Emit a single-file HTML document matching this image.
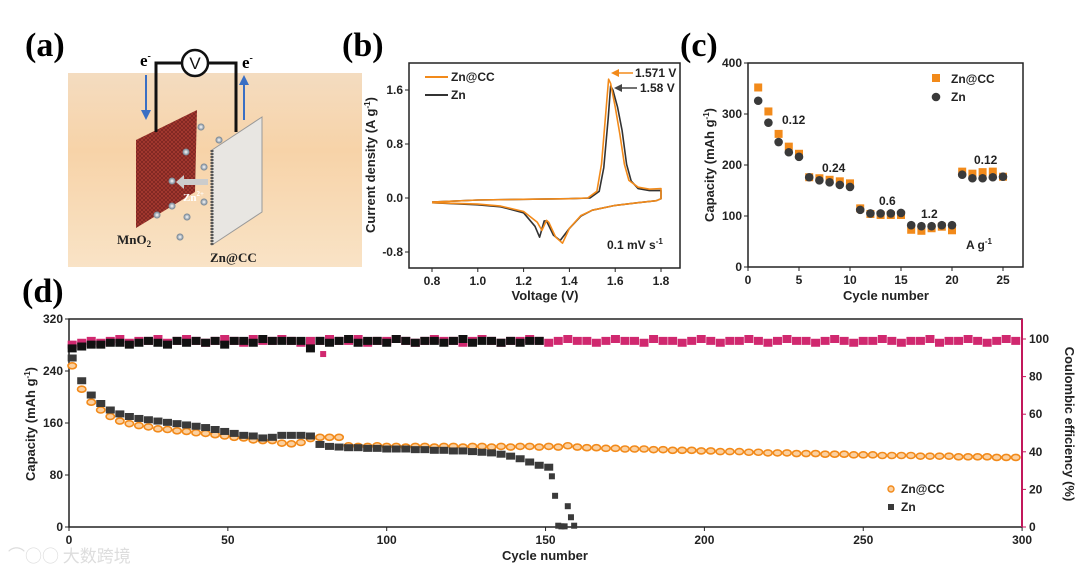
<!DOCTYPE html>
<html><head><meta charset="utf-8"><style>
html,body{margin:0;padding:0;background:#fff;}
svg{display:block;font-family:"Liberation Sans",Arial,sans-serif;}
.lbl{font-family:"Liberation Serif",serif;font-weight:bold;font-size:34px;}
.tk{font-size:12px;font-weight:bold;fill:#222;}
.at{font-size:13px;font-weight:bold;fill:#222;}
</style></head><body>
<svg id="fig" width="1080" height="575" viewBox="0 0 1080 575" xmlns="http://www.w3.org/2000/svg">
<defs>
<linearGradient id="bg" x1="0" y1="0" x2="0" y2="1"><stop offset="0" stop-color="#f4dcc0"/><stop offset="0.4" stop-color="#f7d3a8"/><stop offset="1" stop-color="#f9e3c6"/></linearGradient>
<pattern id="mesh" width="4" height="4" patternUnits="userSpaceOnUse"><rect width="4" height="4" fill="#a83a30"/><path d="M0 0L4 4M4 0L0 4" stroke="#7a2520" stroke-width="0.8"/></pattern>
<radialGradient id="ball"><stop offset="0" stop-color="#fff"/><stop offset="1" stop-color="#6a7a8a"/></radialGradient>
</defs>
<text class="lbl" x="25" y="56">(a)</text>
<text class="lbl" x="342" y="56">(b)</text>
<text class="lbl" x="680" y="56">(c)</text>
<text class="lbl" x="22" y="302">(d)</text>

<g>
<rect x="68" y="73" width="294" height="194" fill="url(#bg)"/>
<polygon points="136,140 197,110 195,192 136,228" fill="url(#mesh)"/>
<polygon points="212,150 262,117 262,212 212,245" fill="#e8e6e2" stroke="#999" stroke-width="1"/>
<line x1="212" y1="150" x2="212" y2="245" stroke="#555" stroke-width="3" stroke-dasharray="2,1"/>
<polyline points="156,132 156,63 182,63" fill="none" stroke="#111" stroke-width="3"/>
<polyline points="208,63 236,63 236,132" fill="none" stroke="#111" stroke-width="3"/>
<circle cx="195" cy="63" r="13" fill="#fff" stroke="#111" stroke-width="2.5"/>
<text x="195" y="69" text-anchor="middle" font-size="17" fill="#111">V</text>
<line x1="146" y1="75" x2="146" y2="112" stroke="#3a6fc4" stroke-width="2"/><polygon points="141,110 151,110 146,120" fill="#3a6fc4"/>
<line x1="244" y1="120" x2="244" y2="83" stroke="#3a6fc4" stroke-width="2"/><polygon points="239,85 249,85 244,75" fill="#3a6fc4"/>
<text x="140" y="66" font-family="Liberation Serif" font-weight="bold" font-size="17">e<tspan font-size="10" dy="-7">-</tspan></text>
<text x="242" y="68" font-family="Liberation Serif" font-weight="bold" font-size="17">e<tspan font-size="10" dy="-7">-</tspan></text>
<g fill="url(#ball)"><circle cx="201" cy="127" r="3.5"/><circle cx="219" cy="140" r="3.5"/><circle cx="186" cy="152" r="3.5"/><circle cx="204" cy="167" r="3.5"/><circle cx="172" cy="181" r="3.5"/><circle cx="204" cy="202" r="3.5"/><circle cx="172" cy="206" r="3.5"/><circle cx="157" cy="215" r="3.5"/><circle cx="187" cy="217" r="3.5"/><circle cx="180" cy="237" r="3.5"/></g>
<polygon points="208,179 184,179 184,175 176,182 184,189 184,185 208,185" fill="#ccc"/>
<text x="183" y="201" font-family="Liberation Serif" font-weight="bold" font-size="11" fill="#fff">Zn<tspan font-size="7" dy="-5">2+</tspan></text>
<text x="117" y="244" font-family="Liberation Serif" font-weight="bold" font-size="13" fill="#222">MnO<tspan font-size="9" dy="3">2</tspan></text>
<text x="210" y="262" font-family="Liberation Serif" font-weight="bold" font-size="13" fill="#222">Zn@CC</text>
</g>
<g id="pb"></g>
<g id="pc"></g>
<g id="pd"></g>
<text x="8" y="562" font-size="17" fill="#ddd" font-family="Noto Sans CJK SC, sans-serif">⌒○○ 大数跨境</text>
</svg>
<script>
// ---- Panel b data ----
const cvCC_V=[0.8,1.0,1.2,1.4,1.48,1.52,1.54,1.56,1.571,1.58,1.6,1.62,1.64,1.66,1.7,1.75,1.8,1.8,1.78,1.7,1.6,1.5,1.45,1.4,1.37,1.34,1.31,1.30,1.28,1.26,1.2,1.1,1.0,0.8];
const cvCC_I=[-0.06,-0.03,-0.02,-0.01,0.0,0.1,0.5,1.3,1.76,1.7,1.35,0.95,0.5,0.26,0.16,0.13,0.14,-0.01,-0.04,-0.07,-0.11,-0.18,-0.26,-0.45,-0.67,-0.58,-0.36,-0.33,-0.48,-0.36,-0.2,-0.12,-0.09,-0.07];
const cvZn_V=[0.8,1.0,1.2,1.4,1.49,1.53,1.55,1.57,1.58,1.59,1.61,1.63,1.65,1.67,1.7,1.75,1.8,1.8,1.78,1.7,1.6,1.5,1.45,1.4,1.36,1.33,1.30,1.29,1.27,1.25,1.2,1.1,1.0,0.8];
const cvZn_I=[-0.06,-0.03,-0.02,-0.01,0.0,0.1,0.45,1.2,1.66,1.6,1.35,1.0,0.5,0.25,0.14,0.11,0.11,-0.01,-0.04,-0.07,-0.11,-0.18,-0.27,-0.45,-0.63,-0.55,-0.34,-0.34,-0.58,-0.42,-0.22,-0.13,-0.1,-0.07];
const bXTicks=[0.8,1.0,1.2,1.4,1.6,1.8];
const bYTicks=[-0.8,0.0,0.8,1.6];
// ---- Panel c data ----
const rateCycles=[1,2,3,4,5,6,7,8,9,10,11,12,13,14,15,16,17,18,19,20,21,22,23,24,25];
const rateCC=[352,305,261,236,222,176,174,171,168,164,115,104,102,102,102,73,71,76,79,72,187,183,186,187,177];
const rateZn=[326,283,245,225,216,176,170,166,161,157,112,105,105,105,106,82,80,80,82,82,181,174,174,176,177];
const cXTicks=[0,5,10,15,20,25];
const cYTicks=[0,100,200,300,400];
// ---- Panel d data (every 3rd cycle: 1,4,7,...) ----
const capCC=[248,212,192,180,170,163,159,156,154,151,150,148,147,145,144,142,140,138,137,134,133,133,129,128,130,136,138,138,138,125,124,124,125,124,124,123,124,124,123,124,124,123,124,124,123,124,123,124,124,123,124,123,125,123,122,122,121,121,120,120,120,119,119,118,118,118,117,117,116,116,116,115,115,114,114,114,113,113,113,112,112,112,111,111,111,110,110,110,110,109,109,109,109,108,108,108,108,107,107,107];
const capZn=[260,225,203,190,180,174,170,167,165,163,161,159,157,155,153,150,147,144,141,140,137,138,141,141,141,140,127,124,123,122,122,121,121,120,120,120,119,119,118,118,117,117,116,115,114,112,109,105,100,95,92];
const znTailCycles=[152,153,154,155,156,157,158,159];
const znTailCap=[78,48,2,1,1,32,15,2];
const ceCC=[97,98,99,98,99,100,98,99,99,100,98,99,100,99,98,99,100,99,98,100,99,99,100,99,98,99,99,100,99,99,100,98,99,99,100,99,98,99,100,99,99,98,99,100,99,98,99,99,100,99,98,99,100,99,99,98,99,100,99,99,98,100,99,99,98,99,100,99,98,99,99,100,99,98,99,100,99,99,98,99,100,99,98,99,99,100,99,98,99,99,100,98,99,99,100,99,98,99,100,99];
const ceZn=[95,96,97,97,98,98,97,98,99,98,97,99,98,99,98,99,97,99,99,98,100,99,99,99,99,95,99,98,99,100,98,99,99,98,100,99,98,99,99,98,99,100,98,99,99,98,99,98,99,99];
const ceOutCycle=[80];const ceOutVal=[92];
const dXTicks=[0,50,100,150,200,250,300];
const dYTicks=[0,80,160,240,320];
const dRTicks=[0,20,40,60,80,100];

const NS='http://www.w3.org/2000/svg';
function mk(p,t,a){const e=document.createElementNS(NS,t);for(const k in a)e.setAttribute(k,a[k]);p.appendChild(e);return e;}
function axisBox(g,x0,y0,x1,y1){const r=mk(g,'rect',{x:x0,y:y0,width:x1-x0,height:y1-y0,fill:'none',stroke:'#222','stroke-width':1.5});}

// Panel b
(function(){
const g=document.getElementById('pb');
const X0=409,X1=680,Y0=63,Y1=268;
const sx=v=>432+(v-0.8)*229;
const sy=v=>198-v*67.5;
axisBox(g,X0,Y0,X1,Y1);
bXTicks.forEach(t=>{mk(g,'line',{x1:sx(t),x2:sx(t),y1:Y1,y2:Y1+4,stroke:'#222'});const tx=mk(g,'text',{x:sx(t),y:Y1+17,'text-anchor':'middle',class:'tk'});tx.textContent=t.toFixed(1);});
bYTicks.forEach(t=>{mk(g,'line',{x1:X0,x2:X0-4,y1:sy(t),y2:sy(t),stroke:'#222'});const tx=mk(g,'text',{x:X0-6,y:sy(t)+4,'text-anchor':'end',class:'tk'});tx.textContent=t.toFixed(1);});
function curve(V,I,c,n){let d='';V.forEach((v,i)=>{d+=(i?'L':'M')+sx(v).toFixed(1)+' '+sy(I[i]).toFixed(1);});const p=mk(g,'path',{d:d,fill:'none',stroke:c,'stroke-width':1.6,'stroke-linejoin':'round'});}
curve(cvZn_V,cvZn_I,'#333','cv-zn-line');
curve(cvCC_V,cvCC_I,'#f28a1a','cv-zncc-line');
const xt=mk(g,'text',{x:545,y:300,'text-anchor':'middle',class:'at'});xt.textContent='Voltage (V)';
const yt=mk(g,'text',{x:0,y:0,'text-anchor':'middle',class:'at',transform:'translate(375,165) rotate(-90)'});yt.innerHTML='Current density (A g<tspan font-size="8" dy="-5">-1</tspan><tspan dy="5">)</tspan>';
mk(g,'line',{x1:425,x2:448,y1:77,y2:77,stroke:'#f28a1a','stroke-width':2});
const l1=mk(g,'text',{x:451,y:81,class:'tk',fill:'#f28a1a'});l1.textContent='Zn@CC';l1.setAttribute('fill','#f28a1a');
mk(g,'line',{x1:425,x2:448,y1:95,y2:95,stroke:'#333','stroke-width':2});
const l2=mk(g,'text',{x:451,y:99,class:'tk'});l2.textContent='Zn';
mk(g,'line',{x1:633,x2:617,y1:73,y2:73,stroke:'#f28a1a','stroke-width':1.5});mk(g,'polygon',{points:'611,73 619,69 619,77',fill:'#f28a1a'});
const a1=mk(g,'text',{x:635,y:77,class:'tk'});a1.textContent='1.571 V';a1.setAttribute('fill','#f28a1a');
mk(g,'line',{x1:637,x2:620,y1:88,y2:88,stroke:'#444','stroke-width':1.5});mk(g,'polygon',{points:'614,88 622,84 622,92',fill:'#444'});
const a2=mk(g,'text',{x:640,y:92,class:'tk',fill:'#444'});a2.textContent='1.58 V';
const sr=mk(g,'text',{x:607,y:249,class:'tk'});sr.innerHTML='0.1 mV s<tspan font-size="8" dy="-5">-1</tspan>';
})();

// Panel c
(function(){
const g=document.getElementById('pc');
const X0=748,X1=1023,Y0=63,Y1=267;
const sx=v=>748+v*10.2;
const sy=v=>267-v*0.51;
axisBox(g,X0,Y0,X1,Y1);
cXTicks.forEach(t=>{mk(g,'line',{x1:sx(t),x2:sx(t),y1:Y1,y2:Y1+4,stroke:'#222'});const tx=mk(g,'text',{x:sx(t),y:Y1+17,'text-anchor':'middle',class:'tk'});tx.textContent=t;});
cYTicks.forEach(t=>{mk(g,'line',{x1:X0,x2:X0-4,y1:sy(t),y2:sy(t),stroke:'#222'});const tx=mk(g,'text',{x:X0-6,y:sy(t)+4,'text-anchor':'end',class:'tk'});tx.textContent=t;});
rateCycles.forEach((c,i)=>{const r=mk(g,'rect',{x:sx(c)-4,y:sy(rateCC[i])-4,width:8,height:8,fill:'#f28a1a'});});
rateCycles.forEach((c,i)=>{const r=mk(g,'circle',{cx:sx(c),cy:sy(rateZn[i]),r:4.3,fill:'#3a3a3a'});});
mk(g,'rect',{x:932,y:74,width:8,height:8,fill:'#f28a1a'});
const l1=mk(g,'text',{x:951,y:83,class:'tk'});l1.textContent='Zn@CC';l1.setAttribute('fill','#f28a1a');
mk(g,'circle',{cx:936,cy:97,r:4.3,fill:'#3a3a3a'});
const l2=mk(g,'text',{x:951,y:101,class:'tk',fill:'#333'});l2.textContent='Zn';
[['0.12',782,124],['0.24',822,172],['0.6',879,205],['1.2',921,218],['0.12',974,164]].forEach(a=>{const t=mk(g,'text',{x:a[1],y:a[2],class:'tk'});t.textContent=a[0];});
const ag=mk(g,'text',{x:966,y:249,class:'tk'});ag.innerHTML='A g<tspan font-size="8" dy="-5">-1</tspan>';
const xt=mk(g,'text',{x:886,y:300,'text-anchor':'middle',class:'at'});xt.textContent='Cycle number';
const yt=mk(g,'text',{x:0,y:0,'text-anchor':'middle',class:'at',transform:'translate(714,165) rotate(-90)'});yt.innerHTML='Capacity (mAh g<tspan font-size="8" dy="-5">-1</tspan><tspan dy="5">)</tspan>';
})();

// Panel d
(function(){
const g=document.getElementById('pd');
const X0=69,X1=1022,Y0=319,Y1=527;
const sx=v=>69+v*3.177;
const sy=v=>527-v*0.65;
const sr=v=>527-v*1.88;
axisBox(g,X0,Y0,X1,Y1);
mk(g,'line',{x1:X1,x2:X1,y1:Y0,y2:Y1,stroke:'#c2185b','stroke-width':2});
dXTicks.forEach(t=>{mk(g,'line',{x1:sx(t),x2:sx(t),y1:Y1,y2:Y1+4,stroke:'#222'});const tx=mk(g,'text',{x:sx(t),y:Y1+17,'text-anchor':'middle',class:'tk'});tx.textContent=t;});
dYTicks.forEach(t=>{mk(g,'line',{x1:X0,x2:X0-4,y1:sy(t),y2:sy(t),stroke:'#222'});const tx=mk(g,'text',{x:X0-6,y:sy(t)+4,'text-anchor':'end',class:'tk'});tx.textContent=t;});
dRTicks.forEach(t=>{mk(g,'line',{x1:X1,x2:X1+4,y1:sr(t),y2:sr(t),stroke:'#c2185b'});const tx=mk(g,'text',{x:X1+7,y:sr(t)+4,class:'tk',fill:'#c2185b'});tx.textContent=t;});
ceCC.forEach((v,i)=>{const r=mk(g,'rect',{x:sx(i*3+1)-4.5,y:sr(v)-4,width:9,height:8,fill:'#d0286f'});});
ceOutCycle.forEach((c,i)=>{const r=mk(g,'rect',{x:sx(c)-3,y:sr(ceOutVal[i])-3,width:6,height:6,fill:'#d0286f'});});
ceZn.forEach((v,i)=>{const r=mk(g,'rect',{x:sx(i*3+1)-4.5,y:sr(v)-4,width:9,height:8,fill:'#111'});});
capCC.forEach((v,i)=>{const r=mk(g,'ellipse',{cx:sx(i*3+1),cy:sy(v),rx:4.2,ry:3,fill:'#fbd0a0',stroke:'#f28a1a','stroke-width':1.6});});
capZn.forEach((v,i)=>{const r=mk(g,'rect',{x:sx(i*3+1)-4.5,y:sy(v)-3.5,width:9,height:7,fill:'#3a3a3a'});});
znTailCycles.forEach((c,i)=>{const r=mk(g,'rect',{x:sx(c)-3,y:sy(znTailCap[i])-3,width:6,height:6,fill:'#3a3a3a'});});
mk(g,'circle',{cx:891,cy:489,r:3,fill:'#fbd0a0',stroke:'#f28a1a','stroke-width':1.4});
const l1=mk(g,'text',{x:901,y:493,class:'tk'});l1.textContent='Zn@CC';l1.setAttribute('fill','#f28a1a');
mk(g,'rect',{x:888,y:504,width:6,height:6,fill:'#3a3a3a'});
const l2=mk(g,'text',{x:901,y:511,class:'tk'});l2.textContent='Zn';
const xt=mk(g,'text',{x:545,y:560,'text-anchor':'middle',class:'at'});xt.textContent='Cycle number';
const yt=mk(g,'text',{x:0,y:0,'text-anchor':'middle',class:'at',transform:'translate(35,424) rotate(-90)'});yt.innerHTML='Capacity (mAh g<tspan font-size="8" dy="-5">-1</tspan><tspan dy="5">)</tspan>';
const rt=mk(g,'text',{x:0,y:0,'text-anchor':'middle',class:'at',fill:'#c2185b',transform:'translate(1065,424) rotate(90)'});rt.textContent='Coulombic efficiency (%)';
})();
</script>
</body></html>
